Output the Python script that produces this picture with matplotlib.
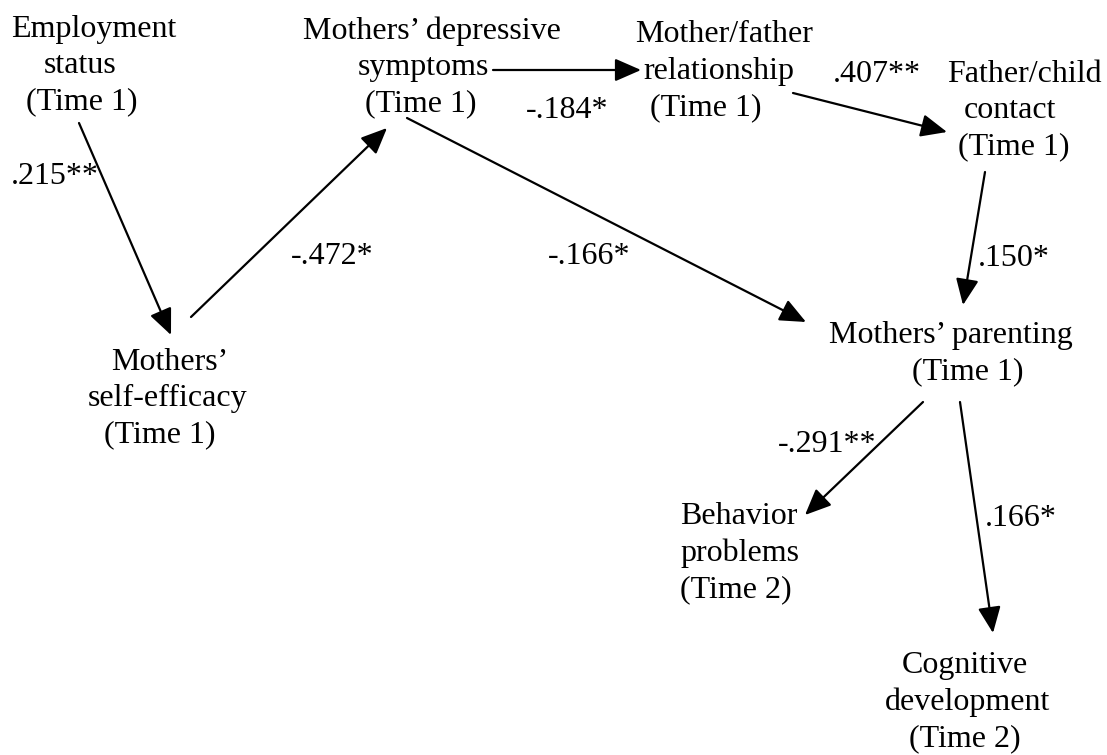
import matplotlib.pyplot as plt
from matplotlib.patches import FancyArrowPatch

plt.rcParams['font.family'] = ['Liberation Serif', 'DejaVu Serif']

# nodes of the path model
node_labels = [
    'Employment\nstatus\n(Time 1)',
    'Mothers\u2019 depressive\nsymptoms\n(Time 1)',
    'Mother/father\nrelationship\n(Time 1)',
    'Father/child\ncontact\n(Time 1)',
    'Mothers\u2019\nself-efficacy\n(Time 1)',
    'Mothers\u2019 parenting\n(Time 1)',
    'Behavior\nproblems\n(Time 2)',
    'Cognitive\ndevelopment\n(Time 2)',
]
# path coefficients (from node, to node, label)
path_from = [0, 4, 1, 2, 3, 1, 5, 5]
path_to = [4, 1, 2, 3, 5, 5, 6, 7]
path_coef = ['.215**', '-.472*', '-.184*', '.407**', '.150*', '-.166*', '-.291**', '.166*']

# layout (pixel coords, y down): y of first line, x of each line
node_top = [29, 31, 35, 74, 362, 335, 517, 666]
node_line_x = [[94, 80, 82], [432, 423, 421], [724, 719, 706], [1024, 1010, 1014],
               [170, 168, 160], [951, 968], [680, 680, 680], [965, 968, 965]]
node_ha = ['center', 'center', 'center', 'center', 'center', 'center', 'left', 'center']
line_step = 36.6
arrow_start = [(79, 123), (191, 317), (493, 70), (793, 93),
               (985, 172), (407, 118), (923, 402), (960, 402)]
arrow_end = [(171, 335), (387, 128), (641, 70), (947, 132),
             (963, 305), (806, 322), (805, 515), (993, 633)]
coef_xy = [(55, 177), (332, 256), (567, 110), (877, 74),
           (1014, 259), (589, 256), (827, 444), (1021, 519)]

fig = plt.figure(figsize=(11.07, 7.55), dpi=100)
ax = fig.add_axes([0, 0, 1, 1])
ax.set_xlim(0, 1107)
ax.set_ylim(755, 0)
ax.axis('off')

for lab, y0, xs, ha in zip(node_labels, node_top, node_line_x, node_ha):
    for i, (line, x) in enumerate(zip(lab.split('\n'), xs)):
        ax.text(x, y0 + i * line_step, line, ha=ha, va='center', fontsize=23)

for a, b in zip(arrow_start, arrow_end):
    arr = FancyArrowPatch(a, b, arrowstyle='-|>,head_length=16,head_width=7',
                          mutation_scale=1, lw=1.6, color='black',
                          shrinkA=0, shrinkB=0)
    ax.add_patch(arr)

for lab, (x, y) in zip(path_coef, coef_xy):
    ax.text(x, y, lab, ha='center', va='center', fontsize=23)

plt.savefig('out.png', dpi=100)
